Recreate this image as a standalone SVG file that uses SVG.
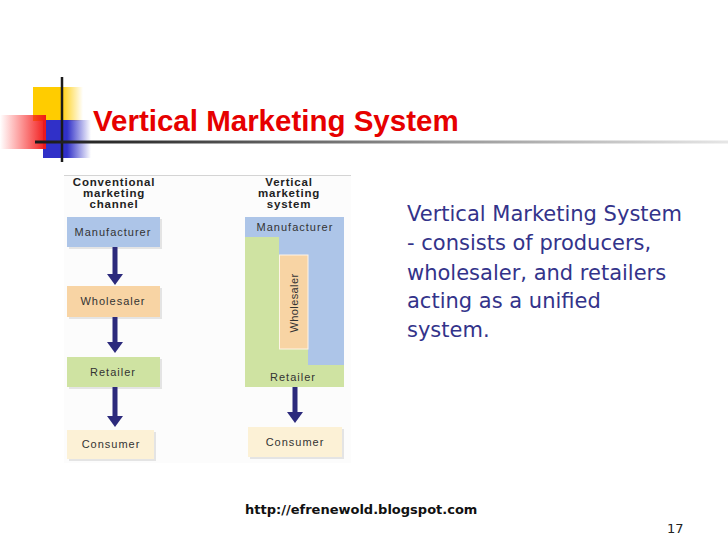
<svg xmlns="http://www.w3.org/2000/svg" width="728" height="546" viewBox="0 0 728 546">
<defs>
<linearGradient id="gY" x1="0" y1="0" x2="1" y2="0"><stop offset="0.55" stop-color="#ffcc00"/><stop offset="1" stop-color="#ffcc00" stop-opacity="0"/></linearGradient>
<linearGradient id="gB" x1="0" y1="0" x2="1" y2="0"><stop offset="0.5" stop-color="#3030c8"/><stop offset="1" stop-color="#3030c8" stop-opacity="0"/></linearGradient>
<linearGradient id="gR" x1="0" y1="0" x2="1" y2="0"><stop offset="0" stop-color="#ff2020" stop-opacity="0"/><stop offset="1" stop-color="#f01818"/></linearGradient>
<linearGradient id="gL" gradientUnits="userSpaceOnUse" x1="35" y1="0" x2="728" y2="0"><stop offset="0" stop-color="#1a1a1a"/><stop offset="0.15" stop-color="#333"/><stop offset="0.6" stop-color="#999"/><stop offset="1" stop-color="#e6e6e6"/></linearGradient>
<marker id="ah" markerUnits="userSpaceOnUse" viewBox="0 -8 11 16" refX="0" refY="0" markerWidth="11" markerHeight="16" orient="auto"><path d="M0,-8 L11,0 L0,8 z" fill="#2c2a7c"/></marker>
<style>
.hdr{font-family:"Liberation Sans",Arial,sans-serif;font-weight:bold;font-size:11.5px;letter-spacing:0.8px;fill:#222;text-anchor:middle}
.lbl{font-family:"Liberation Sans",Arial,sans-serif;font-size:11px;letter-spacing:1px;fill:#333;text-anchor:middle}
.sh{fill:#e4e4e4}
.blue{fill:#adc5e8}
.peach{fill:#f8d4a4}
.green{fill:#cfe3a2}
.cream{fill:#fcf1d6}
.conn{stroke:#2c2a7c;stroke-width:5;fill:none;marker-end:url(#ah)}
.body{font-family:"DejaVu Sans",Verdana,sans-serif;font-size:21px;fill:#33338a}
</style>
</defs>
<rect width="728" height="546" fill="#ffffff"/>
<g id="decoration">
<rect x="33" y="87" width="50" height="34" fill="url(#gY)"/>
<rect x="43" y="120" width="48" height="38" fill="url(#gB)"/>
<rect x="0" y="115" width="46" height="34" fill="url(#gR)"/>
<line x1="62" y1="77" x2="62" y2="162" stroke="#1a1a1a" stroke-width="2.5"/>
<rect x="35" y="140.5" width="693" height="3" fill="url(#gL)"/>
</g>
<text id="title" x="93" y="131" font-family="'Liberation Sans',Arial,sans-serif" font-weight="bold" font-size="29.5" fill="#e60000">Vertical Marketing System</text>
<g id="panel">
<rect x="64" y="175" width="287" height="288" fill="#fcfcfc"/>
<line x1="64" y1="175.5" x2="351" y2="175.5" stroke="#d4d4d4" stroke-width="1"/>
</g>
<g id="conventional">
<text class="hdr" x="114" y="186">Conventional</text>
<text class="hdr" x="114" y="197">marketing</text>
<text class="hdr" x="114" y="208">channel</text>
<g id="c-manufacturer"><rect class="sh" x="69" y="219" width="93" height="30"/><rect class="blue" x="67" y="217" width="93" height="30"/><text class="lbl" x="113" y="236">Manufacturer</text></g>
<g id="c-wholesaler"><rect class="sh" x="69" y="288" width="93" height="31"/><rect class="peach" x="67" y="286" width="93" height="31"/><text class="lbl" x="113" y="305">Wholesaler</text></g>
<g id="c-retailer"><rect class="sh" x="69" y="359" width="93" height="30"/><rect class="green" x="67" y="357" width="93" height="30"/><text class="lbl" x="113" y="376">Retailer</text></g>
<g id="c-consumer"><rect class="sh" x="69" y="432" width="87" height="29"/><rect class="cream" x="67" y="430" width="87" height="29"/><text class="lbl" x="111" y="448">Consumer</text></g>
</g>
<g id="vertical">
<text class="hdr" x="289" y="186">Vertical</text>
<text class="hdr" x="289" y="197">marketing</text>
<text class="hdr" x="289" y="208">system</text>
<g id="v-manufacturer"><rect class="blue" x="245" y="217" width="99" height="148"/><text class="lbl" x="295" y="231">Manufacturer</text></g>
<g id="v-retailer"><path class="green" d="M245,237 H279 V349 H308 V365 H344 V387 H245 Z"/><text class="lbl" x="293" y="381">Retailer</text></g>
<g id="v-wholesaler"><rect class="peach" x="279.5" y="255" width="28.5" height="94" stroke="#fff4e6" stroke-width="1"/><text class="lbl" transform="translate(298,303) rotate(-90)" style="letter-spacing:0.4px">Wholesaler</text></g>
<g id="v-consumer"><rect class="sh" x="250" y="429" width="94" height="30"/><rect class="cream" x="248" y="427" width="94" height="30"/><text class="lbl" x="295" y="446">Consumer</text></g>
</g>
<g id="connectors">
<line class="conn" x1="115" y1="247" x2="115" y2="274"/>
<line class="conn" x1="115" y1="317" x2="115" y2="342"/>
<line class="conn" x1="115" y1="387" x2="115" y2="416"/>
<line class="conn" x1="295" y1="387" x2="295" y2="412"/>
</g>
<g id="description">
<text class="body" x="407" y="221">Vertical Marketing System</text>
<text class="body" x="407" y="250">- consists of producers,</text>
<text class="body" x="407" y="280">wholesaler, and retailers</text>
<text class="body" x="407" y="308">acting as a unified</text>
<text class="body" x="407" y="337">system.</text>
</g>
<text id="footer" x="245" y="514" font-family="'DejaVu Sans',Verdana,sans-serif" font-weight="bold" font-size="13" fill="#111">http://efrenewold.blogspot.com</text>
<text id="page" x="667" y="533" font-family="'DejaVu Sans',Verdana,sans-serif" font-size="13" fill="#222">17</text>
</svg>
